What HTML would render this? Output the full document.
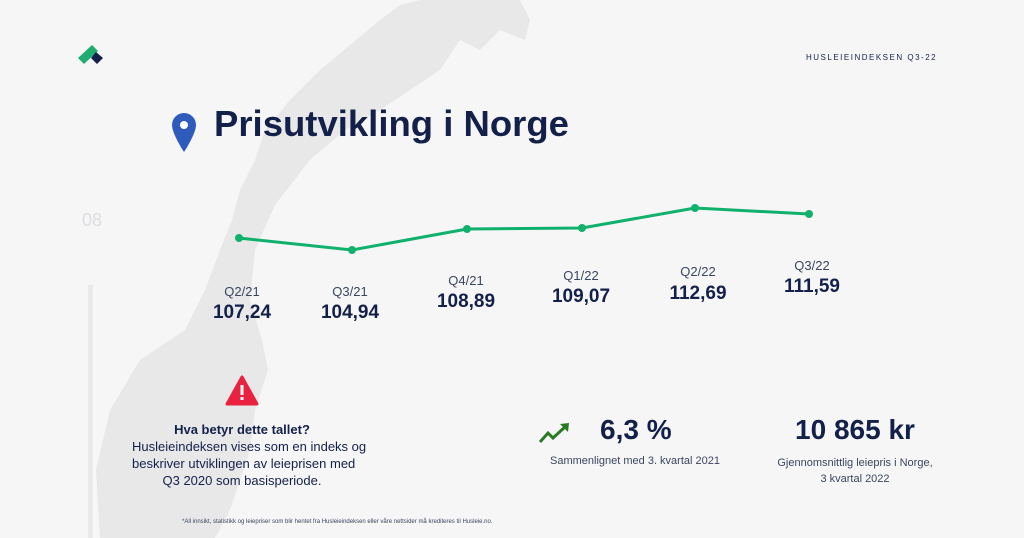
<!DOCTYPE html>
<html><head><meta charset="utf-8"><style>
body{margin:0;width:1024px;height:538px;overflow:hidden;background:#f6f6f6;font-family:"Liberation Sans",sans-serif;color:#13204a;position:relative}
.a{position:absolute;white-space:nowrap}
.q{font-size:13px;color:#3a4560;text-align:center;width:100px}
.v{font-size:19px;font-weight:bold;text-align:center;width:100px;color:#13204a}
</style></head><body>
<svg class="a" style="left:0;top:0" width="1024" height="538">
<path d="M100 538 L96 470 L110 410 L140 360 L185 330 L205 290 L220 250 L232 220 L240 190 L255 160 L265 130 L290 100 L320 70 L350 45 L380 20 L400 5 L420 0 L520 0 L530 20 L525 40 L500 30 L480 50 L460 40 L440 70 L410 90 L380 110 L345 130 L310 160 L275 205 L255 250 L250 300 L262 340 L268 370 L255 410 L250 450 L240 480 L230 510 L215 538 Z" fill="#e8e8e8"/>
<rect x="88" y="285" width="5" height="253" fill="#e9e9e9"/>
<polygon points="78,58 92,45 98,51 84,64" fill="#1fae6f"/>
<polygon points="96,52 103,58 97,64 91,58" fill="#13204a"/>
<path d="M184 113 a12 12 0 0 1 12 12 c0 9 -12 27 -12 27 c0 0 -12 -18 -12 -27 a12 12 0 0 1 12 -12z" fill="#2f5bbd"/>
<circle cx="184" cy="125" r="4" fill="#fff"/>
<polyline points="239,238 352,250 467,229 582,228 695,208 809,214" fill="none" stroke="#10b16c" stroke-width="3"/>
<g fill="#10b16c"><circle cx="239" cy="238" r="4"/><circle cx="352" cy="250" r="4"/><circle cx="467" cy="229" r="4"/><circle cx="582" cy="228" r="4"/><circle cx="695" cy="208" r="4"/><circle cx="809" cy="214" r="4"/></g>
<polygon points="242,377 257,404 227,404" fill="#e8223f" stroke="#e8223f" stroke-width="3" stroke-linejoin="round"/>
<rect x="240.5" y="385" width="3" height="10" fill="#fff"/><rect x="240.5" y="397" width="3" height="3" fill="#fff"/>
<polyline points="540,442 548,433 553,438 566,426" fill="none" stroke="#2a7a22" stroke-width="3"/>
<polygon points="560,424 569,423 568,432" fill="#2a7a22"/>
</svg>
<div class="a" style="left:806px;top:53px;font-size:8px;letter-spacing:1.5px;color:#13204a">HUSLEIEINDEKSEN Q3-22</div>
<div class="a" style="left:214px;top:103px;font-size:36.5px;font-weight:bold">Prisutvikling i Norge</div>
<div class="a" style="left:82px;top:210px;font-size:18px;color:#dcdde3">08</div>
<div class="a q" style="left:192px;top:284px">Q2/21</div><div class="a v" style="left:192px;top:302px">107,24</div>
<div class="a q" style="left:300px;top:284px">Q3/21</div><div class="a v" style="left:300px;top:302px">104,94</div>
<div class="a q" style="left:416px;top:273px">Q4/21</div><div class="a v" style="left:416px;top:291px">108,89</div>
<div class="a q" style="left:531px;top:268px">Q1/22</div><div class="a v" style="left:531px;top:286px">109,07</div>
<div class="a q" style="left:648px;top:264px">Q2/22</div><div class="a v" style="left:648px;top:283px">112,69</div>
<div class="a q" style="left:762px;top:258px">Q3/22</div><div class="a v" style="left:762px;top:276px">111,59</div>
<div class="a" style="left:132px;top:421px;width:220px;text-align:center;font-size:13px;line-height:17px;color:#13204a"><b>Hva betyr dette tallet?</b><br>Husleieindeksen vises som en indeks og<br>beskriver utviklingen av leieprisen med<br>Q3 2020 som basisperiode.</div>
<div class="a" style="left:600px;top:414px;font-size:28px;font-weight:bold">6,3 %</div>
<div class="a" style="left:550px;top:455px;font-size:11px;color:#3a4560">Sammenlignet med 3. kvartal 2021</div>
<div class="a" style="left:770px;top:414px;width:170px;text-align:center;font-size:28px;font-weight:bold">10 865 kr</div>
<div class="a" style="left:755px;top:455px;width:200px;text-align:center;font-size:11px;line-height:16px;color:#3a4560">Gjennomsnittlig leiepris i Norge,<br>3 kvartal 2022</div>
<div class="a" style="left:182px;top:519px;font-size:6px;color:#3a4560">*All innsikt, statistikk og leiepriser som blir hentet fra Husleieindeksen eller våre nettsider må krediteres til Husleie.no.</div>
</body></html>
